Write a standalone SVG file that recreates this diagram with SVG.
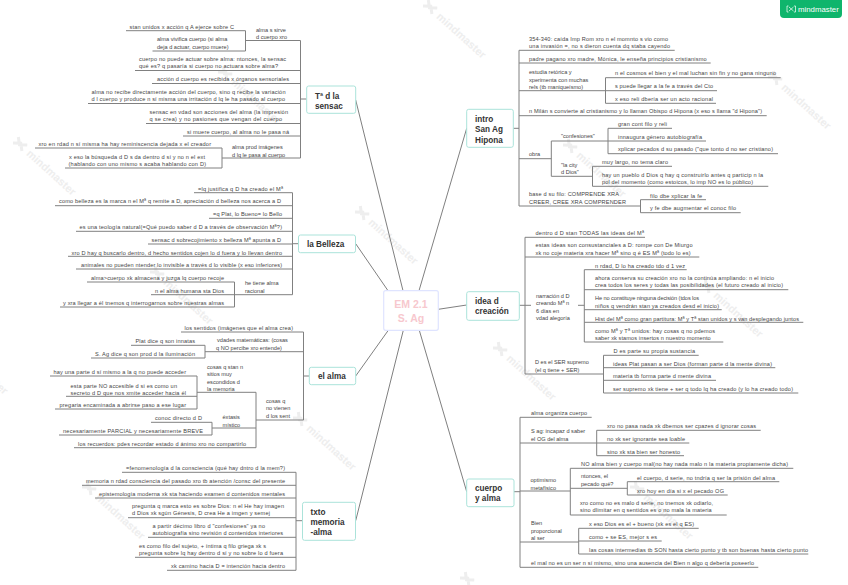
<svg xmlns="http://www.w3.org/2000/svg" width="848" height="585" viewBox="0 0 848 585">
<style>
text{font-family:"Liberation Sans",Arial,sans-serif}
.t{font-size:5.6px;fill:#444}
.h{font-size:8.2px;font-weight:700;fill:#333}
.b{fill:#fff;stroke:#abe3da;stroke-width:1}
.c{fill:none;stroke:#808080;stroke-width:1}
.wt{font-size:11px;font-weight:700;fill:#eeeeee}
.wi{fill:none;stroke:#eeeeee;stroke-width:3}
</style>
<defs><g id="wm"><path class="wi" d="M0 -8L6 -3L12 -8M0 0L6 -5L12 0"/><text class="wt" x="17" y="0">mindmaster</text></g></defs>
<rect width="848" height="585" fill="#fff"/>
<g id="watermarks">
<use href="#wm" transform="translate(13 143) rotate(42)"/>
<use href="#wm" transform="translate(218 72) rotate(42)"/>
<use href="#wm" transform="translate(423 6) rotate(42)"/>
<use href="#wm" transform="translate(768 77) rotate(42)"/>
<use href="#wm" transform="translate(563 145) rotate(42)"/>
<use href="#wm" transform="translate(355 212) rotate(42)"/>
<use href="#wm" transform="translate(150 272) rotate(42)"/>
<use href="#wm" transform="translate(-55 342) rotate(42)"/>
<use href="#wm" transform="translate(293 418) rotate(42)"/>
<use href="#wm" transform="translate(493 348) rotate(42)"/>
<use href="#wm" transform="translate(700 285) rotate(42)"/>
<use href="#wm" transform="translate(82 487) rotate(42)"/>
<use href="#wm" transform="translate(630 487) rotate(42)"/>
<use href="#wm" transform="translate(460 578) rotate(42)"/>
</g>
<g id="connectors" class="c">
<path d="M403 290.7L355.7 100M388 290.7L355.7 243.7M419 290.7L466.7 128.3M438.3 309.3L466.7 305M388.3 330.3L355.7 376M403.3 330.3L355.7 520.7M419.3 330.3L466.7 491.7"/>
<path d="M306.7 99H300.5M300.5 40.5V158M300.5 40.5H245.5M245.5 30.7V51M245.5 30.7H126M245.5 51H152.5M300.5 70.5H135M300.5 83.5H152M300.5 103.5H88M300.5 123.5H146M300.5 136H183M300.5 158H222M222 148V168M222 148H35M222 168H65"/>
<path d="M298.5 243.7H292.500M292.5 192.7V294.7M292.5 192.7H194M292.5 205.7H55M292.5 218.3H209M292.5 231.3H76M292.5 244H148M292.5 256.3H68M292.5 269H76M292.5 294.7H235M234.5 282V307M234.5 282H87M234.5 294.7H151M234.5 307H60"/>
<path d="M309.3 376H303.5M303.5 332V420M303.5 332H181M303.5 351.7H205M205 345.3V358M205 345.3H131M205 358H91M303.5 420H256M256 392.3V447.7M256 392.3H197M197 376V409M197 376H50M197 396.3H66M197 409H55M256 428H212M212 422.3V435M212 422.3H151M212 435H59M256 447.7H74"/>
<path d="M302.5 520.7H296M296 472.3V570.3M296 472.3H122M296 485.3H82M296 498H95M296 517.7H128M296 537.3H148M296 557.3H135M296 570.3H167"/>
<path d="M513.3 128.3H519M519 50.3V206M519 50.3H674.7M519 63H710.7M519 90.7H605.5M605.5 77.7V103.3M605.5 77.7H780.7M605.5 90.7H717M605.5 103.3H716M519 115.7H766.7M519 158.7H551.3M551.3 141V176.3M551.3 141H608M608 128.3V153.7M608 128.3H672M608 141H706M608 153.7H778M551.3 176.3H592.5M592.5 166.3V186.3M592.5 166.3H672M592.5 186.3H768.3M519 206H640.5M640.5 199.7V212.7M640.5 199.7H706M640.5 212.7H740.7"/>
<path d="M519.3 305.3H531M525 237.3V374M525 237.3H645M525 257H699.3M578 305.3H584.3M584.3 269.7V342M584.3 269.7H686.7M584.3 289.7H788.3M584.3 309.7H721.7M584.3 322.3H803.3M584.3 342H723.3M525 374H603.5M603.5 355.3V393M603.5 355.3H698.7M603.5 367.7H775.3M603.5 380.3H716M603.5 393H798.3"/>
<path d="M514 491.7H520M520 417.3V567.3M520 417.3H591.7M520 443H596.7M596.7 430.3V455.7M596.7 430.3H760.7M596.7 443H689.3M596.7 455.7H684M520 491H570.3M570.3 468.3V515M570.3 468.3H793.3M570.3 488.3H627.3M627.3 481.7V495M627.3 481.7H779.3M627.3 495H727.7M570.3 515H726.7M520 542H578.7M578.7 528.3V554M578.7 528.3H698.7M578.7 541H661.7M578.7 554H808.3M520 567.3H758.3"/>
</g>
<g id="center"><rect x="383.7" y="290.7" width="54.6" height="39.6" rx="2" fill="#fff" stroke="#dfe4ff" stroke-width="1.2"/><text x="411" y="308" text-anchor="middle" font-size="10.5" font-weight="700" fill="#f7c8ce">EM 2.1</text><text x="411" y="322" text-anchor="middle" font-size="10.5" font-weight="700" fill="#f7c8ce">S. Ag</text></g>

<g id="n-sensac"><rect class="b" x="306.7" y="86" width="49" height="27.3" rx="2"/><text class="h" x="315" y="98.5">Tª d la</text><text class="h" x="315" y="108.8">sensac</text></g>
<g id="s1"><text class="t" x="129.5" y="28.5" textLength="104.5">stan unidos x acción q A ejerce sobre C</text></g>
<g id="s2"><text class="t" x="157" y="41">alma vivifica cuerpo (si alma</text><text class="t" x="157" y="48.5">deja d actuar, cuerpo muere)</text></g>
<g id="s3"><text class="t" x="256" y="31.5">alma s sirve</text><text class="t" x="256" y="39">d cuerpo xro</text></g>
<g id="s4"><text class="t" x="139" y="61" textLength="147">cuerpo no puede actuar sobre alma: ntonces, la sensac</text><text class="t" x="139" y="68.3" textLength="139">qué es? q pasaría si cuerpo no actuara sobre alma?</text></g>
<g id="s5"><text class="t" x="157" y="81" textLength="132">acción d cuerpo es recibida x órganos sensoriales</text></g>
<g id="s6"><text class="t" x="91.5" y="94" textLength="194">alma no recibe directamente acción del cuerpo, sino q recibe la variación</text><text class="t" x="91.5" y="101" textLength="193.5">d l cuerpo y produce n sí misma una irritación d lq le ha pasado al cuerpo</text></g>
<g id="s7"><text class="t" x="149.5" y="114" textLength="138.5">sensac en vdad son acciones del alma (la impresión</text><text class="t" x="149.5" y="121" textLength="132.500">q se crea) y no pasiones que vengan del cuerpo</text></g>
<g id="s8"><text class="t" x="187" y="134" textLength="102">si muere cuerpo, al alma no le pasa ná</text></g>
<g id="s9"><text class="t" x="232" y="149">alma prod imágenes</text><text class="t" x="232" y="156.5">d lq le pasa al cuerpo</text></g>
<g id="s10"><text class="t" x="38.5" y="146" textLength="172.5">xro en rdad n sí misma ha hay reminiscencia dejada x el creador</text></g>
<g id="s11"><text class="t" x="69" y="159" textLength="136">x eso la búsqueda d D s da dentro d sí y no n el ext</text><text class="t" x="68.5" y="166" textLength="137.5">(hablando con uno mismo s acaba hablando con D)</text></g>

<g id="n-belleza"><rect class="b" x="298.5" y="235" width="57" height="17.7" rx="2"/><text class="h" x="307" y="247">la Belleza</text></g>
<g id="b1"><text class="t" x="198" y="190.7" textLength="85">=lq justifica q D ha creado el Mª</text></g>
<g id="b2"><text class="t" x="59" y="203.3" textLength="222">como belleza es la marca n el Mª q remite a D, apreciación d belleza nos acerca a D</text></g>
<g id="b3"><text class="t" x="213" y="216" textLength="69">=q Plat, lo Bueno= lo Bello</text></g>
<g id="b4"><text class="t" x="79.5" y="229" textLength="202.5">es una teología natural(=Qué puedo saber d D a través de observación Mª?)</text></g>
<g id="b5"><text class="t" x="151.5" y="241.5" textLength="129.5">sensac d sobrecojimiento x belleza Mª apunta a D</text></g>
<g id="b6"><text class="t" x="71.5" y="254.5" textLength="210.5">xro D hay q buscarlo dentro, d hecho sentidos cojen lo d fuera y lo llevan dentro</text></g>
<g id="b7"><text class="t" x="81" y="267" textLength="201">animales no pueden ntender lo invisible a través d lo visible (x eso inferiores)</text></g>
<g id="b8"><text class="t" x="245" y="285">he tiene alma</text><text class="t" x="245" y="292.5">racional</text></g>
<g id="b9"><text class="t" x="91" y="279.5" textLength="133">alma&gt;cuerpo xk almacena y juzga lq cuerpo recoje</text></g>
<g id="b10"><text class="t" x="155" y="292.5" textLength="69">n el alma humana sta Dios</text></g>
<g id="b11"><text class="t" x="63" y="305" textLength="161">y xra llegar a él tnemos q interrogarnos sobre nuestras almas</text></g>

<g id="n-alma"><rect class="b" x="309.3" y="367.3" width="46.4" height="17.4" rx="2"/><text class="h" x="318" y="379.3">el alma</text></g>
<g id="a1"><text class="t" x="184.5" y="329.5" textLength="108.5">los sentidos (imágenes que el alma crea)</text></g>
<g id="a2"><text class="t" x="217" y="342">vdades matemáticas: (cosas</text><text class="t" x="216" y="349.5">q NO percibe xro entende)</text></g>
<g id="a3"><text class="t" x="135.5" y="343" textLength="59.5">Plat dice q son innatas</text></g>
<g id="a4"><text class="t" x="95" y="356" textLength="100">S. Ag dice q son prod d la iluminación</text></g>
<g id="a5"><text class="t" x="266" y="402.7">cosas q</text><text class="t" x="266" y="410.3">no vienen</text><text class="t" x="266" y="418">d los sent</text></g>
<g id="a6"><text class="t" x="207" y="368.7">cosas q stan n</text><text class="t" x="207" y="376">sitios muy</text><text class="t" x="207" y="383.5">escondidos d</text><text class="t" x="207" y="391">la memoria</text></g>
<g id="a7"><text class="t" x="53.5" y="374" textLength="132.5">hay una parte d sí mismo a la q no puede acceder</text></g>
<g id="a8"><text class="t" x="70.5" y="387.5" textLength="106.5">esta parte NO accesible d si es como un</text><text class="t" x="70.5" y="394.5" textLength="115.5">secreto d D que nos xmite acceder hacia él</text></g>
<g id="a9"><text class="t" x="59.5" y="407" textLength="126.5">pregaria encaminada a abrirse paso a ese lugar</text></g>
<g id="a10"><text class="t" x="222.5" y="419.3">éxtasis</text><text class="t" x="222.5" y="426.5">místico</text></g>
<g id="a11"><text class="t" x="155" y="420" textLength="47">conoc directo d D</text></g>
<g id="a12"><text class="t" x="63" y="433" textLength="140">necesariamente PARCIAL y necesariamente BREVE</text></g>
<g id="a13"><text class="t" x="78" y="445.5" textLength="168">los recuerdos: pdes recordar estado d ánimo xro no compartirlo</text></g>

<g id="n-memoria"><rect class="b" x="302.5" y="502.3" width="53" height="38" rx="2"/><text class="h" x="310.5" y="515">txto</text><text class="h" x="310.5" y="525">memoria</text><text class="h" x="310.5" y="535">-alma</text></g>
<g id="m1"><text class="t" x="126" y="470" textLength="159">=fenomenología d la consciencia (qué hay dntro d la mem?)</text></g>
<g id="m2"><text class="t" x="86" y="483" textLength="199">memoria n rdad consciencia del pasado xro tb atención /consc del presente</text></g>
<g id="m3"><text class="t" x="99" y="495.5" textLength="186">epistemología moderna xk sta haciendo examen d contenidos mentales</text></g>
<g id="m4"><text class="t" x="132" y="508" textLength="152">pregunta q marca esto es sobre Dios: n el He hay imagen</text><text class="t" x="132" y="515" textLength="138">d Dios xk sgún Génesis, D crea He a imgen y semej</text></g>
<g id="m5"><text class="t" x="152.5" y="528" textLength="112.5">a partir décimo libro d "confesiones" ya no</text><text class="t" x="152.5" y="535" textLength="130.5">autobiografía sino revisión d contenidos interiores</text></g>
<g id="m6"><text class="t" x="139" y="548" textLength="127">es como filo del sujeto, + íntima q filo griega xk s</text><text class="t" x="139" y="555" textLength="144">pregunta sobre lq hay dentro d sí y no sobre lo d fuera</text></g>
<g id="m7"><text class="t" x="171" y="568" textLength="114">xk camino hacia D = intención hacia dentro</text></g>

<g id="n-intro"><rect class="b" x="466.7" y="109.3" width="46.6" height="38" rx="2"/><text class="h" x="475" y="121.5">intro</text><text class="h" x="475" y="132">San Ag</text><text class="h" x="475" y="142.5">Hipona</text></g>
<g id="i1"><text class="t" x="529" y="41" textLength="139">354-340: caída Imp Rom xro n el momnto s vio como</text><text class="t" x="529" y="48" textLength="141">una invasión =, no s dieron cuenta dq staba cayendo</text></g>
<g id="i2"><text class="t" x="529" y="60.7" textLength="177.7">padre pagano xro madre, Mónica, le enseña principios cristianismo</text></g>
<g id="i3"><text class="t" x="529" y="74">estudia retórica y</text><text class="t" x="529" y="81.5">xperimenta con muchas</text><text class="t" x="529" y="89">rels (tb maniqueísmo)</text></g>
<g id="i4"><text class="t" x="615" y="75" textLength="161">n el cosmos el bien y el mal luchan sin fin y no gana ninguno</text></g>
<g id="i5"><text class="t" x="615" y="88" textLength="98">s puede llegar a la fe a través del Cto</text></g>
<g id="i6"><text class="t" x="615" y="100.7" textLength="98">x eso reli dbería ser un acto racional</text></g>
<g id="i7"><text class="t" x="529" y="113.3" textLength="233">n Milán s convierte al cristianismo y lo llaman Obispo d Hipona (x eso s llama "d Hipona")</text></g>
<g id="i8"><text class="t" x="529" y="156">obra</text></g>
<g id="i9"><text class="t" x="561" y="138.3">"confesiones"</text></g>
<g id="i10"><text class="t" x="618" y="126" textLength="49">gran cont filo y reli</text></g>
<g id="i11"><text class="t" x="618" y="139" textLength="84">innaugura género autobiografía</text></g>
<g id="i12"><text class="t" x="618" y="151.3" textLength="155">xplicar pecados d su pasado ("que tonto d no ser cristiano)</text></g>
<g id="i13"><text class="t" x="561" y="166.5">"la city</text><text class="t" x="561" y="174">d Dios"</text></g>
<g id="i14"><text class="t" x="602" y="164" textLength="66">muy largo, no tema claro</text></g>
<g id="i15"><text class="t" x="602" y="176.5" textLength="161">hay un pueblo d Dios q hay q construirlo antes q particip n la</text><text class="t" x="602" y="183.5" textLength="151">pol del momento (como estoicos, lo imp NO es lo público)</text></g>
<g id="i16"><text class="t" x="529" y="196" textLength="90">base d su filo: COMPRENDE XRA</text><text class="t" x="529" y="204" textLength="97">CREER, CREE XRA COMPRENDER</text></g>
<g id="i17"><text class="t" x="650" y="197.5" textLength="52">filo dbe xplicar la fe</text></g>
<g id="i18"><text class="t" x="650" y="210" textLength="86">y fe dbe augmentar el conoc filo</text></g>

<g id="n-creacion"><rect class="b" x="466.7" y="291.7" width="52.6" height="28.6" rx="2"/><text class="h" x="475" y="303.7">idea d</text><text class="h" x="475" y="314">creación</text></g>
<g id="c1"><text class="t" x="535.5" y="235" textLength="108.5">dentro d D stan TODAS las ideas del Mª</text></g>
<g id="c2"><text class="t" x="535.5" y="247.3" textLength="157">estas ideas son consustanciales a D: rompe con De Miurgo</text><text class="t" x="535.5" y="254.5" textLength="155">xk no coje materia xra hacer Mª sino q é ES Mª (todo lo es)</text></g>
<g id="c3"><text class="t" x="536" y="297.7">narración d D</text><text class="t" x="536" y="305.3">creando Mª n</text><text class="t" x="536" y="313">6 días en</text><text class="t" x="536" y="320.3">vdad alegoría</text></g>
<g id="c4"><text class="t" x="595" y="267.7" textLength="90">n rdad, D lo ha creado tdo d 1 vez</text></g>
<g id="c5"><text class="t" x="595" y="280" textLength="179">ahora conserva su creación xro no la continúa ampliando: n el inicio</text><text class="t" x="595" y="287" textLength="188">crea todos los seres y todas las posibilidades (el futuro creado al inicio)</text></g>
<g id="c6"><text class="t" x="595" y="300" textLength="104">He no constituye ninguna decisión (tdos los</text><text class="t" x="595" y="307.5" textLength="124">niños q vendrán stan ya creados desd el inicio)</text></g>
<g id="c7"><text class="t" x="595" y="320.5" textLength="204">Hist del Mª como gran partitura: Mª y Tª stan unidos y s van desplegando juntos</text></g>
<g id="c8"><text class="t" x="595" y="333" textLength="120">como Mª y Tª unidos: hay cosas q no pdemos</text><text class="t" x="595" y="340" textLength="115.7">saber xk stamos insertos n nuestro momento</text></g>
<g id="c9"><text class="t" x="535" y="364">D es el SER supremo</text><text class="t" x="535" y="371.5">(el q tiene + SER)</text></g>
<g id="c10"><text class="t" x="613.5" y="353" textLength="81.5">D es parte su propia sustancia</text></g>
<g id="c11"><text class="t" x="613" y="365.7" textLength="159">ideas Plat pasan a ser Dios (forman parte d la mente divina)</text></g>
<g id="c12"><text class="t" x="613" y="378" textLength="98">materia tb forma parte d mente divina</text></g>
<g id="c13"><text class="t" x="613" y="391" textLength="180">ser supremo xk tiene + ser q todo lq ha creado (y lo ha creado todo)</text></g>

<g id="n-cuerpo"><rect class="b" x="466.7" y="479" width="47.3" height="27.7" rx="2"/><text class="h" x="475" y="490.7">cuerpo</text><text class="h" x="475" y="500.7">y alma</text></g>
<g id="p1"><text class="t" x="531" y="415" textLength="56">alma organiza cuerpo</text></g>
<g id="p2"><text class="t" x="531" y="433">S ag: incapaz d saber</text><text class="t" x="531" y="440.5">el OG del alma</text></g>
<g id="p3"><text class="t" x="607" y="428" textLength="149">xro no pasa nada xk dbemos ser cpazes d ignorar cosas</text></g>
<g id="p4"><text class="t" x="607" y="441" textLength="78">no xk ser ignorante sea loable</text></g>
<g id="p5"><text class="t" x="607" y="453.5" textLength="73">sino xk sta bien ser honesto</text></g>
<g id="p6"><text class="t" x="530.5" y="482">optimismo</text><text class="t" x="530.5" y="489.5">metafísico</text></g>
<g id="p7"><text class="t" x="581" y="466" textLength="207">NO alma bien y cuerpo mal(no hay nada malo n la materia propiamente dicha)</text></g>
<g id="p8"><text class="t" x="581" y="478.3">ntonces, el</text><text class="t" x="581" y="486">pecado qué?</text></g>
<g id="p9"><text class="t" x="637" y="479.5" textLength="138">el cuerpo, d serie, no tndría q ser la prisión del alma</text></g>
<g id="p10"><text class="t" x="637" y="492.5" textLength="87">xro hoy en día si x el pecado OG</text></g>
<g id="p11"><text class="t" x="580" y="504.7" textLength="133">xro como no es malo d serie, no tnemos xk odiarlo,</text><text class="t" x="580" y="512" textLength="131.7">sino dlimitar en q sentidos es o no mala la materia</text></g>
<g id="p12"><text class="t" x="531" y="525">Bien</text><text class="t" x="531" y="532.5">proporcional</text><text class="t" x="531" y="540">al ser</text></g>
<g id="p13"><text class="t" x="589" y="526" textLength="105">x eso Dios es el + bueno (xk es el q ES)</text></g>
<g id="p14"><text class="t" x="589" y="538.7" textLength="68">como + se ES, mejor s es</text></g>
<g id="p15"><text class="t" x="589" y="551.5" textLength="219">las cosas intermedias tb SON hasta cierto punto y tb son buenas hasta cierto punto</text></g>
<g id="p16"><text class="t" x="531" y="565" textLength="223">el mal no es un ser n sí mismo, sino una ausencia del Bien n algo q debería poseerlo</text></g>

<g id="badge"><path d="M780 0H842V14a4 4 0 0 1-4 4H784a4 4 0 0 1-4-4Z" fill="#0fb56c"/><path d="M788.500 6H787V12H788.500M794 6H795.500V12H794M789 7L793.500 11M793.500 7L789 11" fill="none" stroke="#fff" stroke-width=".7"/><text x="798" y="12" font-size="7.8" fill="#fff">mindmaster</text></g>
</svg>
